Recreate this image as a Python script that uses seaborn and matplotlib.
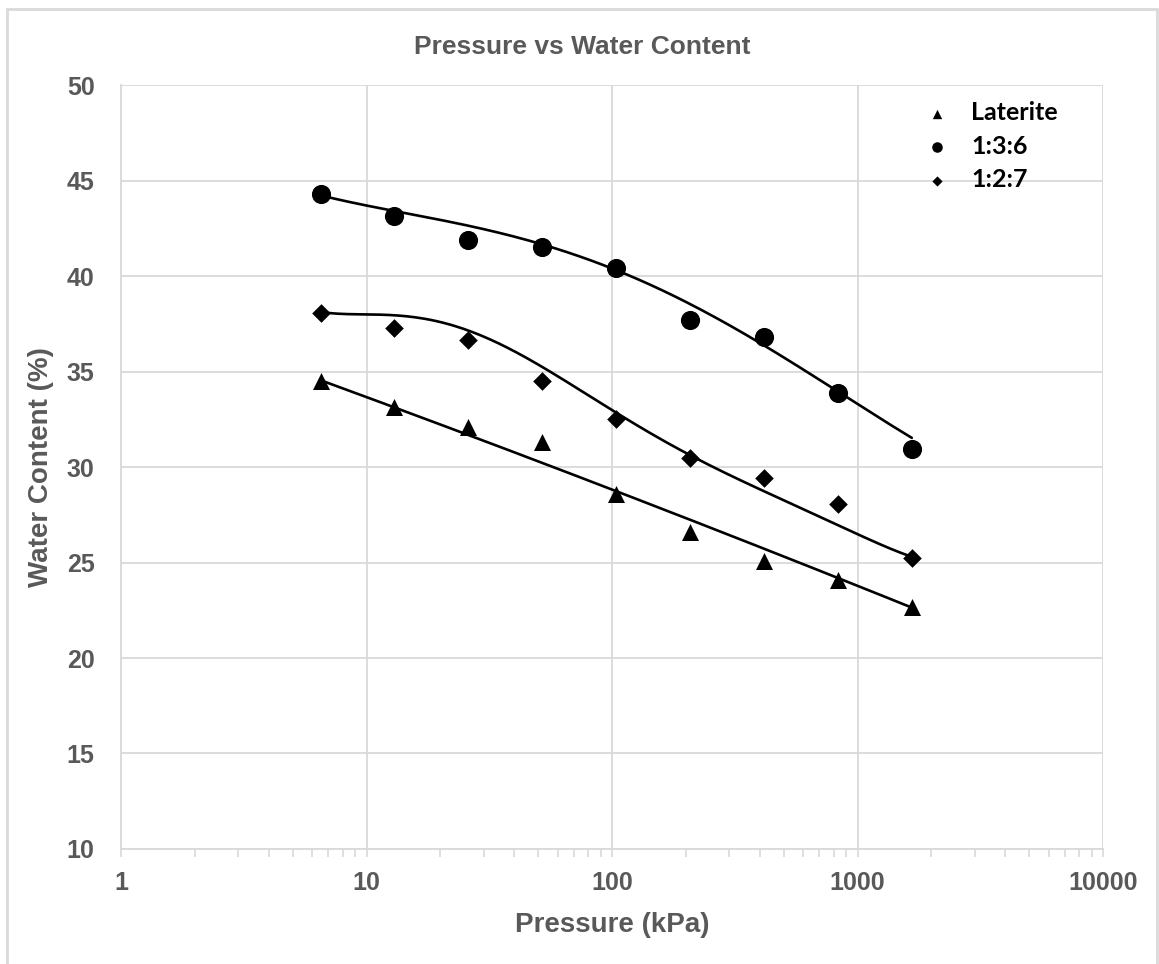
import numpy as np
import pandas as pd
import seaborn as sns
import matplotlib.pyplot as plt
from matplotlib.ticker import FixedLocator, LogLocator, NullFormatter

# Data
pressure = [6.5, 13, 26, 52, 104, 208, 416, 832, 1664]
laterite = [34.48, 33.15, 32.07, 31.29, 28.57, 26.60, 25.09, 24.10, 22.68]
mix_136 = [44.30, 43.13, 41.88, 41.51, 40.42, 37.68, 36.83, 33.87, 30.92]
mix_127 = [38.05, 37.26, 36.65, 34.48, 32.51, 30.45, 29.44, 28.05, 25.26]

# trend curves as drawn in the chart, read at the same pressures
trend_laterite = [34.55, 33.09, 31.69, 30.22, 28.80, 27.18, 25.70, 24.20, 22.65]
trend_136 = [44.30, 43.20, 42.70, 41.80, 40.40, 38.25, 36.35, 34.15, 31.45]
trend_127 = [38.12, 37.95, 37.13, 35.25, 32.85, 30.60, 28.75, 26.95, 25.30]

series = ["Laterite", "1:3:6", "1:2:7"]
markers = {"Laterite": "^", "1:3:6": "o", "1:2:7": "D"}
sizes = {"Laterite": 150, "1:3:6": 190, "1:2:7": 90}
fit_deg = {"Laterite": 2, "1:3:6": 4, "1:2:7": 6}

points = pd.DataFrame({
    "pressure": pressure * 3,
    "water": laterite + mix_136 + mix_127,
    "series": [s for s in series for _ in pressure],
})
trends = {"Laterite": trend_laterite, "1:3:6": trend_136, "1:2:7": trend_127}

sns.set_theme(style="white")
plt.rcParams["font.family"] = ["Liberation Sans", "DejaVu Sans"]
grey = "#595959"
light = "#d9d9d9"

fig = plt.figure(figsize=(11.59, 9.64), dpi=100)
ax = fig.add_axes([0.1044, 0.1193, 0.8473, 0.7925])

# smooth trend lines (polynomial in log pressure)
lx = np.log10(pressure)
grid = np.linspace(lx[0], lx[-1], 200)
for s in series:
    coef = np.polyfit(lx, trends[s], fit_deg[s])
    sns.lineplot(x=10 ** grid, y=np.polyval(coef, grid), color="black",
                 linewidth=1.9, ax=ax, legend=False, zorder=3)

for s in series:
    d = points[points["series"] == s]
    sns.scatterplot(data=d, x="pressure", y="water", marker=markers[s],
                    s=sizes[s], color="black", edgecolor="black", linewidth=0,
                    ax=ax, label=s, zorder=4)

ax.set_xscale("log")
ax.set_xlim(1, 10000)
ax.set_ylim(10, 50)
ax.set_xticks([1, 10, 100, 1000, 10000])
ax.set_xticklabels(["1", "10", "100", "1000", "10000"])
ax.xaxis.set_minor_locator(LogLocator(base=10, subs=np.arange(2, 10)))
ax.xaxis.set_minor_formatter(NullFormatter())
ax.yaxis.set_major_locator(FixedLocator(np.arange(10, 51, 5)))

ax.grid(True, which="major", color=light, linewidth=1.3)
ax.set_axisbelow(True)
for side in ["top", "right"]:
    ax.spines[side].set_visible(False)
for side in ["left", "bottom"]:
    ax.spines[side].set_color(light)
    ax.spines[side].set_linewidth(1.3)

ax.tick_params(axis="x", which="both", direction="out", bottom=True,
               color=light, length=6, width=1.2, pad=10,
               labelsize=18, labelcolor=grey)
ax.tick_params(axis="y", left=False, pad=13, labelsize=18, labelcolor=grey)
for lab in ax.get_xticklabels() + ax.get_yticklabels():
    lab.set_fontweight("bold")

ax.set_xlabel("Pressure (kPa)", fontsize=20, fontweight="bold", color=grey, labelpad=12)
ax.set_ylabel("Water Content (%)", fontsize=20, fontweight="bold", color=grey, labelpad=9)
fig.suptitle("Pressure vs Water Content", x=0.502, y=0.964, fontsize=19,
             fontweight="bold", color=grey)

leg = ax.legend(loc="upper left", bbox_to_anchor=(0.783, 1.008), frameon=False,
                markerscale=0.55, handletextpad=0.35, labelspacing=0.42,
                prop={"family": "Lato", "weight": "bold", "size": 18})
for t in leg.get_texts():
    t.set_color("black")

# light frame around the whole chart
fig.add_artist(plt.Rectangle((0.006, -0.01), 0.992, 1.0007, transform=fig.transFigure,
                             fill=False, edgecolor=light, linewidth=2))

fig.savefig("out.png", dpi=100)
